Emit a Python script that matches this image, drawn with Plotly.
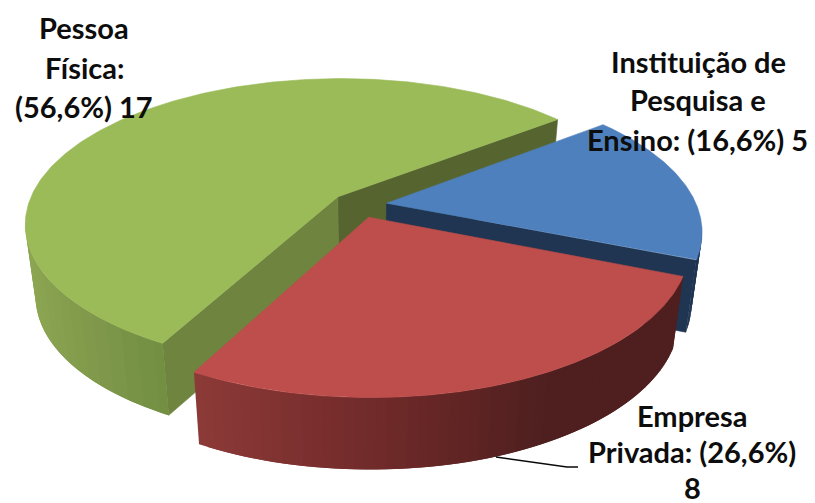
import numpy as np
import plotly.graph_objects as go

# Survey data: who holds the records
categories = ["Instituição de Pesquisa e Ensino", "Empresa Privada", "Pessoa Física"]
values = [5, 8, 17]
percent_labels = ["16,6%", "26,6%", "56,6%"]

# Slice styling, keyed by category order
top_colors = ["#4d80bd", "#bd4e4b", "#9bbb59"]
rim_stops = [
    [(0.0, "#1f3552"), (1.0, "#1f3552")],
    [(0.0, "#8c3a38"), (0.25, "#7a2f2e"), (0.5, "#652625"), (0.72, "#4f1f1f"), (1.0, "#4f1f1f")],
    [(0.0, "#8ca652"), (0.45, "#80994b"), (1.0, "#728f42")],
]
cut_colors = {"start": ["#1f3552", "#4f1f1f", "#566530"], "end": ["#1f3552", "#4f1f1f", "#6f843e"]}

# Pie layout: first slice starts here and runs clockwise in the plane
first_angle = 38.0
explode = 0.09

# Oblique perspective of the pie plane on the page
center_x, center_y = 359.0, 205.0
scale_x, scale_y = 310.0, 142.5
persp = 0.182
depth = 72.0
taper = 0.031


def project(px, py):
    w = 1 + persp * py
    return center_x + scale_x * px / w, center_y - scale_y * py / w


def drop(sx, sy):
    return sx + taper * (center_x - sx), sy + depth


def hex_rgb(h):
    return np.array([int(h[i:i + 2], 16) for i in (1, 3, 5)], float)


def ramp(stops, t):
    pos = [s[0] for s in stops]
    cols = np.array([hex_rgb(s[1]) for s in stops])
    rgb = [np.interp(t, pos, cols[:, k]) for k in range(3)]
    return "rgb({:.0f},{:.0f},{:.0f})".format(*rgb)


def poly(fig, xs, ys, color, edge=0.6):
    fig.add_trace(go.Scatter(
        x=xs, y=ys, mode="lines", fill="toself", fillcolor=color,
        line=dict(color=color, width=edge), hoverinfo="skip", showlegend=False,
    ))


fig = go.Figure()

total = sum(values)
sweeps = [v / total * 360 for v in values]
ends = first_angle - np.cumsum([0] + sweeps[:-1])

# Far slice first, near slice last, so nearer solids cover farther ones
for i in [2, 0, 1]:
    a0, a1 = ends[i] - sweeps[i], ends[i]
    mid = np.radians((a0 + a1) / 2)
    ox, oy = explode * np.cos(mid), explode * np.sin(mid)
    theta = np.radians(np.linspace(a0, a1, 241))
    rx, ry = project(ox + np.cos(theta), oy + np.sin(theta))
    ax, ay = project(ox, oy)
    bx, by = drop(rx, ry)
    cx, cy = drop(ax, ay)

    # Cut walls from the apex to each end of the arc
    if i == 2:
        poly(fig, [ax, rx[0], bx[0], cx, ax], [ay, ry[0], by[0], cy, ay], cut_colors["start"][i])
        poly(fig, [ax, rx[-1], bx[-1], cx, ax], [ay, ry[-1], by[-1], cy, ay], cut_colors["end"][i])
    if i == 0:
        poly(fig, [ax, rx[0], bx[0], cx, ax], [ay, ry[0], by[0], cy, ay], cut_colors["start"][i])

    # Outer wall: shaded strips along the rim facing the viewer. Each strip runs
    # under the next one so that no seam shows between them.
    visible = np.where(np.sin(theta) < -persp + 0.03)[0]
    if visible.size:
        lo = rx[visible].min()
        span = rx[visible].max() - lo
        first, last = visible[0], visible[-1]
        for j in range(first, last, 4):
            k = min(j + 8, last)
            t = (rx[min(j + 2, last)] - lo) / span if span else 0
            poly(fig,
                 list(rx[j:k + 1]) + list(bx[j:k + 1][::-1]) + [rx[j]],
                 list(ry[j:k + 1]) + list(by[j:k + 1][::-1]) + [ry[j]],
                 ramp(rim_stops[i], t), edge=0)

    # Top face
    poly(fig, [ax] + list(rx) + [ax], [ay] + list(ry) + [ay], top_colors[i])

# Leader line of the near slice's label
fig.add_shape(type="path", path="M 496 457 L 567 467 L 578 467",
              line=dict(color="#0a0a0a", width=1.4), layer="above")

# Data labels, one annotation per line
label_lines = [
    (84, 27, "Pessoa"),
    (84, 67, "Física:"),
    (84, 106, f"({percent_labels[2]}) {values[2]}"),
    (698, 61, "Instituição de"),
    (698, 99, "Pesquisa e"),
    (697, 139, f"Ensino: ({percent_labels[0]}) {values[0]}"),
    (692, 415, "Empresa"),
    (692, 451, f"Privada: ({percent_labels[1]})"),
    (692, 487, f"{values[1]}"),
]
for x, y, text in label_lines:
    fig.add_annotation(x=x, y=y, text=f"<b>{text}</b>", showarrow=False,
                       xanchor="center", yanchor="middle",
                       font=dict(family="Lato", size=29, color="#0d0d0d"))

fig.update_xaxes(range=[0, 815], visible=False, fixedrange=True)
fig.update_yaxes(range=[503, 0], visible=False, fixedrange=True)
fig.update_layout(width=815, height=503, margin=dict(l=0, r=0, t=0, b=0),
                  paper_bgcolor="white", plot_bgcolor="white", showlegend=False)

fig.write_html("out.html")
